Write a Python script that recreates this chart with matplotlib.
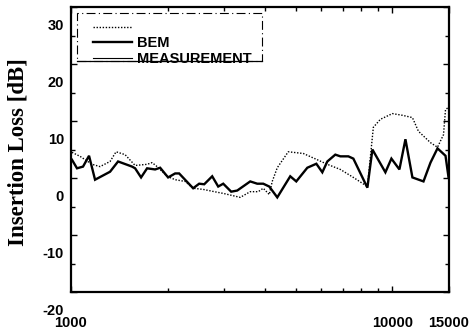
import matplotlib
matplotlib.use("Agg")
import matplotlib.pyplot as plt
import matplotlib.transforms as mtransforms
from matplotlib.ticker import FixedLocator, LogLocator, NullFormatter, MultipleLocator
from matplotlib.lines import Line2D
from matplotlib.patches import Rectangle

# ---- data ----
freq_bem = [1007, 1067, 1163, 1231, 1323, 1381, 1473, 1583, 1725, 1788, 1853, 1991, 2109,
            2265, 2399, 2578, 2850, 2976, 3362, 3611, 3824, 3964, 4139, 4228, 4383, 4742,
            5282, 5840, 6274, 6887, 7560, 8359, 8725, 9176, 10000, 10744, 11541, 12050,
            13137, 13814, 14420, 14630, 14950]
il_bem = [4.5, 3.8, 2.4, 2.0, 2.9, 4.6, 4.1, 2.2, 2.4, 2.7, 2.0, 0.3, -0.3,
          -0.6, -1.8, -2.0, -2.5, -2.7, -3.4, -2.4, -2.4, -1.8, -2.9, -0.6, 1.8, 4.6,
          4.3, 3.2, 2.4, 1.5, 0.1, -1.5, 8.9, 10.3, 11.3, 11.0, 10.6, 8.2,
          6.2, 5.4, 7.6, 12.0, 12.4]

freq_meas = [1007, 1044, 1090, 1138, 1188, 1323, 1401, 1549, 1583, 1652, 1725, 1827, 1894,
             2005, 2109, 2170, 2399, 2505, 2597, 2750, 2871, 2976, 3151, 3290, 3611, 3797,
             3964, 4139, 4383, 4810, 5022, 5436, 5799, 6053, 6274, 6643, 6887, 7294, 7560,
             8359, 8665, 9510, 9929, 10515, 10979, 11541, 12494, 13137, 13814, 14630, 14950]
il_meas = [3.2, 1.7, 2.0, 3.9, -0.3, 1.1, 2.9, 2.0, 1.7, 0.1, 1.7, 1.5, 1.8,
           0.1, 0.8, 0.8, -1.8, -1.0, -1.1, 0.3, -1.5, -1.0, -2.4, -2.2, -0.6, -1.0,
           -1.0, -1.5, -3.4, 0.3, -0.6, 1.8, 2.5, 1.0, 2.9, 4.1, 3.8, 3.8, 3.4,
           -1.7, 5.0, 1.0, 3.4, 1.5, 6.8, 0.1, -0.6, 2.7, 5.2, 3.9, 0.1]

x_ticks = [1000, 10000, 15000]
x_tick_labels = ["1000", "10000", "15000"]
y_ticks = [-20, -10, 0, 10, 20, 30]
y_tick_labels = ["-20", "-10", "0", "10", "20", "30"]
legend_labels = ["", "BEM", "MEASUREMENT"]
y_label = "Insertion Loss [dB]"

# ---- figure ----
fig = plt.figure(figsize=(4.73, 3.30), dpi=100)
ax = fig.add_axes([71 / 473, 38 / 330, 378 / 473, 285 / 330])

ax.plot(freq_bem, il_bem, color="black", lw=1.0, linestyle=(0, (1, 1.2)))
ax.plot(freq_meas, il_meas, color="black", lw=1.7, solid_joinstyle="miter")

ax.set_xscale("log")
ax.set_xlim(1000, 15000)
ax.set_ylim(-20, 30)

ax.xaxis.set_major_locator(FixedLocator(x_ticks))
ax.set_xticklabels(x_tick_labels)
ax.xaxis.set_minor_locator(LogLocator(base=10, subs=range(2, 10)))
ax.xaxis.set_minor_formatter(NullFormatter())

ax.yaxis.set_major_locator(FixedLocator(y_ticks))
ax.set_yticklabels(y_tick_labels)
ax.yaxis.set_minor_locator(MultipleLocator(5))

for lab in ax.get_xticklabels() + ax.get_yticklabels():
    lab.set_fontfamily(["Liberation Sans", "DejaVu Sans"])
    lab.set_fontweight("bold")
    lab.set_fontsize(10.5)

ax.tick_params(which="both", direction="in", top=True, right=True, width=1.0)
ax.tick_params(which="major", length=4)
ax.tick_params(which="minor", length=3)
ax.tick_params(axis="x", which="major", pad=17)
ax.tick_params(axis="y", which="major", pad=5)

# y tick labels sit below their ticks in the reference
offset = mtransforms.ScaledTranslation(0, -17.5 / 100, fig.dpi_scale_trans)
for lab in ax.get_yticklabels():
    lab.set_transform(lab.get_transform() + offset)

for s in ax.spines.values():
    s.set_linewidth(1.6)

ax.set_ylabel(y_label, fontsize=16.5, fontweight="bold",
              family=["Liberation Serif", "DejaVu Serif"])
ax.yaxis.set_label_coords(-0.14, 0.49)
ax.yaxis.label.set_verticalalignment("center")

# ---- legend ----
handles = [Line2D([], [], color="black", lw=1.0, linestyle=(0, (1, 1.2))),
           Line2D([], [], color="black", lw=1.7),
           Line2D([], [], color="black", lw=0.8)]
leg = ax.legend(handles, legend_labels, loc="upper left",
                bbox_to_anchor=((93 - 71) / 378, (292 - 21) / 285),
                frameon=False, borderpad=0, borderaxespad=0,
                handlelength=2.7, handletextpad=0.3, labelspacing=0.1,
                prop=dict(family=["Liberation Sans", "DejaVu Sans"], weight="bold", size=10.5))

# legend box: dash-dot frame with a solid bottom edge
x0, x1 = (77 - 71) / 378, (262 - 71) / 378
y0, y1 = (292 - 61) / 285, (292 - 13) / 285
ax.add_patch(Rectangle((x0, y0), x1 - x0, y1 - y0, transform=ax.transAxes,
                       fill=False, lw=0.8, linestyle=(0, (8, 3, 1, 3)), edgecolor="black"))
ax.add_line(Line2D([x0, x1], [y0, y0], transform=ax.transAxes, color="black", lw=0.9))

fig.savefig("out.png", dpi=100)
